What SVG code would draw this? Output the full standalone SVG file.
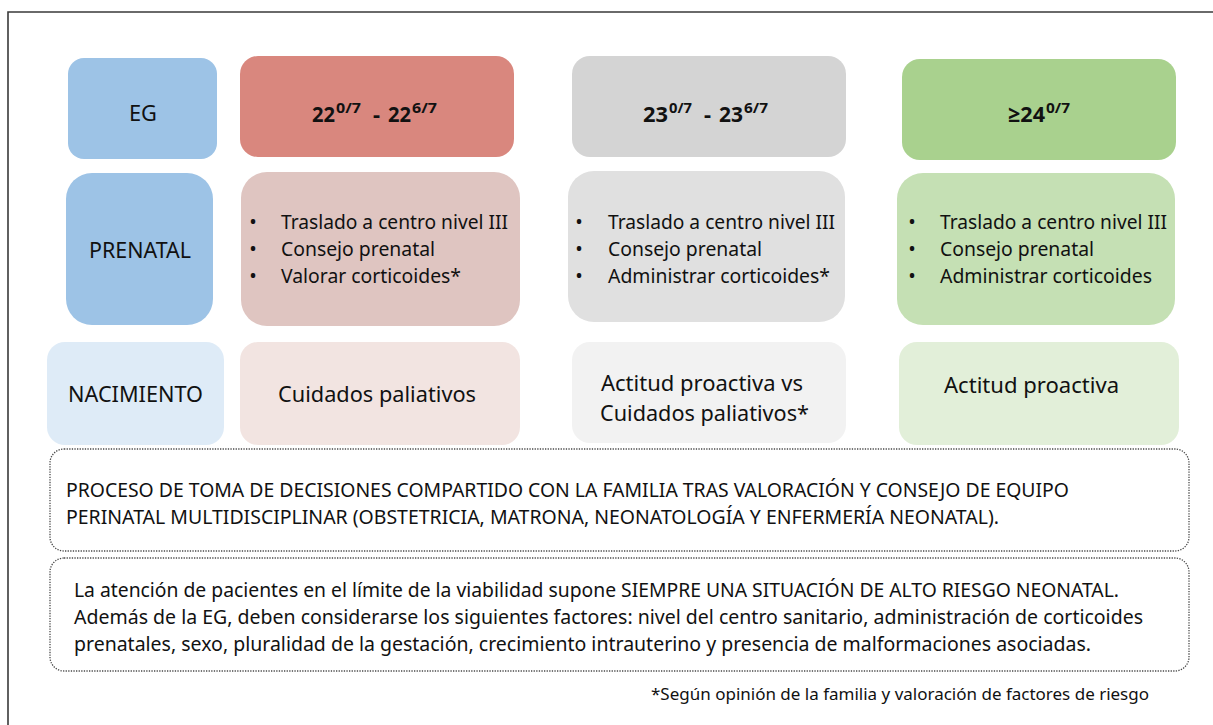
<svg xmlns="http://www.w3.org/2000/svg" width="1213" height="725" viewBox="0 0 1213 725">
<style>
  text { font-family: "Noto Sans", "Open Sans", "Liberation Sans", sans-serif; fill: #111; }
  .hd { font-size: 22.5px; text-anchor: middle; }
  .ti { font-size: 22px; font-weight: bold; }
  .sup { font-size: 15px; font-weight: bold; }
  .bl { font-size: 20px; }
  .bu { font-size: 20px; text-anchor: middle; }
  .r3 { font-size: 22.5px; }
  .dt { font-size: 19px; }
  .fn { font-size: 16.5px; }
  .dot { fill: #ffffff; stroke: #4a4a4a; stroke-width: 1.3; stroke-dasharray: 1.3 1.3; }
</style>
<rect x="0" y="0" width="1213" height="725" fill="#ffffff"/>
<path d="M8,725 V12 H1213" fill="none" stroke="#3a3a3a" stroke-width="1.6"/>

<g id="connectors"/>

<!-- Row 1 -->
<g id="node-eg">
  <rect x="68" y="58" width="149" height="101" rx="16" fill="#9dc3e6"/>
  <text class="hd" x="143" y="121" textLength="28" lengthAdjust="spacingAndGlyphs">EG</text>
</g>
<g id="node-22">
  <rect x="240" y="56" width="274" height="101" rx="18" fill="#d9877e"/>
  <text class="ti"><tspan x="312" y="122" textLength="23" lengthAdjust="spacingAndGlyphs">22</tspan><tspan class="sup" x="336" y="113" textLength="25" lengthAdjust="spacingAndGlyphs">0/7</tspan><tspan x="373" y="122">-</tspan><tspan x="388" y="122" textLength="23" lengthAdjust="spacingAndGlyphs">22</tspan><tspan class="sup" x="412" y="113" textLength="25" lengthAdjust="spacingAndGlyphs">6/7</tspan></text>
</g>
<g id="node-23">
  <rect x="572" y="56" width="274" height="101" rx="18" fill="#d4d4d4"/>
  <text class="ti"><tspan x="643" y="122" textLength="25" lengthAdjust="spacingAndGlyphs">23</tspan><tspan class="sup" x="669" y="113" textLength="23" lengthAdjust="spacingAndGlyphs">0/7</tspan><tspan x="704" y="122">-</tspan><tspan x="719" y="122" textLength="24" lengthAdjust="spacingAndGlyphs">23</tspan><tspan class="sup" x="744" y="113" textLength="24" lengthAdjust="spacingAndGlyphs">6/7</tspan></text>
</g>
<g id="node-24">
  <rect x="902" y="59" width="274" height="101" rx="18" fill="#a9d18e"/>
  <text class="ti"><tspan x="1008" y="122" textLength="37" lengthAdjust="spacingAndGlyphs">≥24</tspan><tspan class="sup" x="1046" y="113" textLength="24" lengthAdjust="spacingAndGlyphs">0/7</tspan></text>
</g>

<!-- Row 2 -->
<g id="node-prenatal">
  <rect x="66" y="173" width="147" height="152" rx="26" fill="#9dc3e6"/>
  <text class="hd" x="140" y="258" textLength="102" lengthAdjust="spacingAndGlyphs">PRENATAL</text>
</g>
<g id="node-pre-22">
  <rect x="241" y="172" width="279" height="154" rx="26" fill="#dfc5c1"/>
  <text class="bu" x="253" y="229">•</text>
  <text class="bu" x="253" y="256">•</text>
  <text class="bu" x="253" y="283">•</text>
  <text class="bl" x="281" y="229" textLength="227" lengthAdjust="spacingAndGlyphs">Traslado a centro nivel III</text>
  <text class="bl" x="281" y="256" textLength="154" lengthAdjust="spacingAndGlyphs">Consejo prenatal</text>
  <text class="bl" x="281" y="283" textLength="180" lengthAdjust="spacingAndGlyphs">Valorar corticoides*</text>
</g>
<g id="node-pre-23">
  <rect x="568" y="171" width="277" height="151" rx="26" fill="#e0e0e0"/>
  <text class="bu" x="579" y="229">•</text>
  <text class="bu" x="579" y="256">•</text>
  <text class="bu" x="579" y="283">•</text>
  <text class="bl" x="608" y="229" textLength="227" lengthAdjust="spacingAndGlyphs">Traslado a centro nivel III</text>
  <text class="bl" x="608" y="256" textLength="154" lengthAdjust="spacingAndGlyphs">Consejo prenatal</text>
  <text class="bl" x="608" y="283" textLength="222" lengthAdjust="spacingAndGlyphs">Administrar corticoides*</text>
</g>
<g id="node-pre-24">
  <rect x="897" y="173" width="278" height="152" rx="26" fill="#c5e0b4"/>
  <text class="bu" x="912" y="229">•</text>
  <text class="bu" x="912" y="256">•</text>
  <text class="bu" x="912" y="283">•</text>
  <text class="bl" x="940" y="229" textLength="227" lengthAdjust="spacingAndGlyphs">Traslado a centro nivel III</text>
  <text class="bl" x="940" y="256" textLength="154" lengthAdjust="spacingAndGlyphs">Consejo prenatal</text>
  <text class="bl" x="940" y="283" textLength="212" lengthAdjust="spacingAndGlyphs">Administrar corticoides</text>
</g>

<!-- Row 3 -->
<g id="node-nacimiento">
  <rect x="47" y="342" width="177" height="103" rx="18" fill="#deebf7"/>
  <text class="r3" x="68" y="402" textLength="135" lengthAdjust="spacingAndGlyphs">NACIMIENTO</text>
</g>
<g id="node-nac-22">
  <rect x="240" y="342" width="280" height="103" rx="18" fill="#f2e4e1"/>
  <text class="r3" x="278" y="402" textLength="198" lengthAdjust="spacingAndGlyphs">Cuidados paliativos</text>
</g>
<g id="node-nac-23">
  <rect x="572" y="342" width="274" height="101" rx="18" fill="#f2f2f2"/>
  <text class="r3" x="601" y="391" textLength="202" lengthAdjust="spacingAndGlyphs">Actitud proactiva vs</text>
  <text class="r3" x="600" y="421" textLength="209" lengthAdjust="spacingAndGlyphs">Cuidados paliativos*</text>
</g>
<g id="node-nac-24">
  <rect x="899" y="342" width="280" height="103" rx="18" fill="#e2efd9"/>
  <text class="r3" x="944" y="393" textLength="175" lengthAdjust="spacingAndGlyphs">Actitud proactiva</text>
</g>

<!-- Dotted info boxes -->
<g id="node-proceso">
  <rect class="dot" x="50" y="449" width="1139" height="102" rx="14"/>
  <text class="dt" x="66" y="497" textLength="1003" lengthAdjust="spacingAndGlyphs">PROCESO DE TOMA DE DECISIONES COMPARTIDO CON LA FAMILIA TRAS VALORACIÓN Y CONSEJO DE EQUIPO</text>
  <text class="dt" x="66" y="524" textLength="933" lengthAdjust="spacingAndGlyphs">PERINATAL MULTIDISCIPLINAR (OBSTETRICIA, MATRONA, NEONATOLOGÍA Y ENFERMERÍA NEONATAL).</text>
</g>
<g id="node-atencion">
  <rect class="dot" x="50" y="558" width="1139" height="113" rx="14"/>
  <text class="dt" x="74" y="597" textLength="1045" lengthAdjust="spacingAndGlyphs">La atención de pacientes en el límite de la viabilidad supone SIEMPRE UNA SITUACIÓN DE ALTO RIESGO NEONATAL.</text>
  <text class="dt" x="74" y="624" textLength="1069" lengthAdjust="spacingAndGlyphs">Además de la EG, deben considerarse los siguientes factores: nivel del centro sanitario, administración de corticoides</text>
  <text class="dt" x="74" y="651" textLength="1017" lengthAdjust="spacingAndGlyphs">prenatales, sexo, pluralidad de la gestación, crecimiento intrauterino y presencia de malformaciones asociadas.</text>
</g>

<g id="footnote">
  <text class="fn" x="651" y="700" textLength="498" lengthAdjust="spacingAndGlyphs">*Según opinión de la familia y valoración de factores de riesgo</text>
</g>
</svg>
